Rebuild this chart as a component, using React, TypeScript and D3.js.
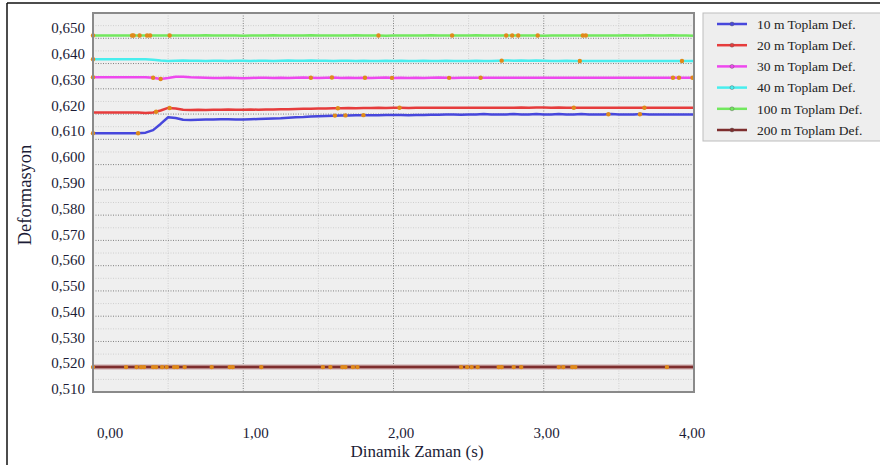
import React from "react";
import * as d3 from "d3";

const W = 880;
const H = 465;

// time axis (s)
const times = [
  0, 0.05, 0.1, 0.15, 0.2, 0.25, 0.3, 0.35, 0.4, 0.45, 0.5, 0.55, 0.6, 0.65, 0.7, 0.75, 0.8, 0.85, 0.9, 0.95,
  1, 1.05, 1.1, 1.15, 1.2, 1.25, 1.3, 1.35, 1.4, 1.45, 1.5, 1.55, 1.6, 1.65, 1.7, 1.75, 1.8, 1.85, 1.9, 1.95,
  2, 2.05, 2.1, 2.15, 2.2, 2.25, 2.3, 2.35, 2.4, 2.45, 2.5, 2.55, 2.6, 2.65, 2.7, 2.75, 2.8, 2.85, 2.9, 2.95,
  3, 3.05, 3.1, 3.15, 3.2, 3.25, 3.3, 3.35, 3.4, 3.45, 3.5, 3.55, 3.6, 3.65, 3.7, 3.75, 3.8, 3.85, 3.9, 3.95, 4,
];

const def10 = [
  0.6092, 0.6092, 0.6092, 0.6092, 0.6092, 0.6092, 0.6092, 0.6094, 0.6104, 0.6128, 0.6154, 0.6151, 0.6144, 0.6143, 0.6144, 0.6145, 0.6145, 0.6146, 0.6146, 0.6145,
  0.6145, 0.6146, 0.6147, 0.6148, 0.6149, 0.615, 0.6152, 0.6154, 0.6155, 0.6157, 0.6158, 0.6159, 0.616, 0.6161, 0.6161, 0.6162, 0.6162, 0.6162, 0.6162, 0.6163,
  0.6163, 0.6163, 0.6162, 0.6163, 0.6163, 0.6164, 0.6164, 0.6165, 0.6165, 0.6164, 0.6165, 0.6165, 0.6166, 0.6165, 0.6165, 0.6165, 0.6166, 0.6165, 0.6165, 0.6166,
  0.6165, 0.6165, 0.6166, 0.6165, 0.6165, 0.6166, 0.6165, 0.6165, 0.6165, 0.6166, 0.6165, 0.6165, 0.6165, 0.6166, 0.6165, 0.6165, 0.6165, 0.6165, 0.6165, 0.6165, 0.6165,
];

const def20 = [
  0.6172, 0.6172, 0.6172, 0.6172, 0.6172, 0.6172, 0.6172, 0.617, 0.6172, 0.618, 0.619, 0.6188, 0.6183, 0.6182, 0.6183, 0.6182, 0.6183, 0.6183, 0.6184, 0.6183,
  0.6183, 0.6184, 0.6183, 0.6184, 0.6184, 0.6185, 0.6185, 0.6186, 0.6187, 0.6187, 0.6188, 0.6188, 0.6189, 0.6189, 0.619, 0.6189, 0.619, 0.619, 0.6191, 0.619,
  0.6191, 0.6191, 0.619, 0.6191, 0.6191, 0.6191, 0.6191, 0.6191, 0.6191, 0.6191, 0.6191, 0.6191, 0.6191, 0.6191, 0.6191, 0.6191, 0.6191, 0.6192, 0.6191, 0.6192,
  0.6192, 0.6191, 0.6192, 0.6191, 0.6191, 0.6191, 0.6191, 0.6191, 0.6191, 0.6191, 0.6191, 0.6191, 0.6191, 0.6191, 0.6191, 0.6191, 0.6191, 0.6191, 0.6191, 0.6191, 0.6191,
];

const def30 = [
  0.6309, 0.6309, 0.6309, 0.6309, 0.6309, 0.6309, 0.6309, 0.6309, 0.6307, 0.6302, 0.6306, 0.6311, 0.6311, 0.6309, 0.6308, 0.6307, 0.6306, 0.6306, 0.6307, 0.6306,
  0.6305, 0.6306, 0.6307, 0.6307, 0.6306, 0.6307, 0.6306, 0.6307, 0.6308, 0.6307, 0.6306, 0.6307, 0.6308, 0.6306, 0.6307, 0.6306, 0.6307, 0.6306, 0.6307, 0.6308,
  0.6306, 0.6307, 0.6306, 0.6307, 0.6306, 0.6307, 0.6308, 0.6307, 0.6306, 0.6307, 0.6307, 0.6307, 0.6307, 0.6307, 0.6307, 0.6307, 0.6307, 0.6307, 0.6307, 0.6307,
  0.6307, 0.6307, 0.6307, 0.6307, 0.6307, 0.6307, 0.6307, 0.6307, 0.6307, 0.6307, 0.6307, 0.6307, 0.6307, 0.6307, 0.6307, 0.6307, 0.6307, 0.6307, 0.6307, 0.6307, 0.6307,
];

const def40 = [
  0.6379, 0.6379, 0.6379, 0.6379, 0.6379, 0.6379, 0.6379, 0.6379, 0.6377, 0.6374, 0.6372, 0.6373, 0.6374, 0.6373, 0.6373, 0.6372, 0.6373, 0.6373, 0.6372, 0.6373,
  0.6373, 0.6372, 0.6373, 0.6373, 0.6372, 0.6373, 0.6374, 0.6373, 0.6373, 0.6374, 0.6373, 0.6373, 0.6372, 0.6373, 0.6373, 0.6372, 0.6373, 0.6372, 0.6372, 0.6373,
  0.6372, 0.6373, 0.6372, 0.6372, 0.6373, 0.6372, 0.6372, 0.6373, 0.6372, 0.6372, 0.6372, 0.6373, 0.6372, 0.6372, 0.6373, 0.6374, 0.6373, 0.6374, 0.6373, 0.6374,
  0.6373, 0.6372, 0.6372, 0.6373, 0.6372, 0.6372, 0.6372, 0.6372, 0.6372, 0.6372, 0.6372, 0.6372, 0.6372, 0.6372, 0.6372, 0.6372, 0.6372, 0.6372, 0.6372, 0.6372, 0.6372,
];

const def100 = [
  0.6471, 0.6471, 0.6471, 0.6471, 0.6471, 0.6471, 0.6471, 0.6471, 0.6471, 0.6471, 0.6471, 0.6471, 0.6471, 0.6471, 0.6471, 0.6472, 0.6471, 0.6471, 0.6471, 0.6471,
  0.647, 0.6471, 0.6471, 0.6471, 0.6472, 0.6471, 0.6471, 0.6471, 0.6471, 0.6472, 0.6471, 0.6471, 0.6471, 0.6471, 0.6471, 0.6472, 0.6471, 0.6471, 0.6471, 0.647,
  0.6471, 0.6471, 0.6471, 0.6471, 0.6471, 0.6472, 0.6471, 0.6471, 0.6471, 0.6471, 0.6471, 0.6472, 0.6471, 0.6471, 0.6471, 0.6471, 0.6471, 0.6471, 0.6471, 0.6471,
  0.647, 0.6471, 0.6471, 0.6471, 0.6471, 0.6471, 0.6471, 0.6471, 0.6471, 0.6471, 0.6471, 0.6472, 0.6471, 0.6471, 0.6472, 0.6471, 0.6471, 0.6472, 0.6471, 0.6471, 0.647,
];

const def200 = times.map(() => 0.5185);

// orange point markers (time in s) per series
const mark10 = [0, 0.3, 1.61, 1.68, 1.8, 3.43, 3.64];
const mark20 = [0.42, 0.51, 1.63, 2.04, 3.2, 3.67];
const mark30 = [0, 0.4, 0.45, 1.45, 1.59, 1.81, 1.99, 2.37, 2.58, 3.86, 3.9, 3.99];
const mark40 = [0, 2.72, 3.24, 3.92];
const mark100 = [0, 0.26, 0.27, 0.31, 0.36, 0.38, 0.51, 1.9, 2.39, 2.75, 2.79, 2.83, 2.96, 3.26, 3.28];
const mark200 = [
  0, 0.22, 0.29, 0.32, 0.34, 0.4, 0.42, 0.46, 0.49, 0.54, 0.56, 0.61, 0.79, 0.91, 0.93, 1.12, 1.53, 1.58, 1.66,
  1.68, 1.73, 1.76, 2.45, 2.49, 2.52, 2.56, 2.7, 2.72, 2.8, 2.85, 3.1, 3.13, 3.19, 3.21, 3.82,
];

const seriesNames = [
  "10 m Toplam Def.",
  "20 m Toplam Def.",
  "30 m Toplam Def.",
  "40 m Toplam Def.",
  "100 m Toplam Def.",
  "200 m Toplam Def.",
];
const seriesValues = [def10, def20, def30, def40, def100, def200];
const seriesMarks = [mark10, mark20, mark30, mark40, mark100, mark200];
const seriesColors = ["#4747dc", "#e63c3c", "#ee48ee", "#48eeee", "#72e85e", "#7e2e2e"];

const yTicks = [0.51, 0.52, 0.53, 0.54, 0.55, 0.56, 0.57, 0.58, 0.59, 0.6, 0.61, 0.62, 0.63, 0.64, 0.65];
const xTicks = [0, 1, 2, 3, 4];

const fmt = (v: number, d: number) => v.toFixed(d).replace(".", ",");

export default function App() {
  const left = 93, right = 694, top = 13, bottom = 392;
  const x = d3.scaleLinear().domain([0, 4]).range([left, right]);
  const y = d3.scaleLinear().domain([0.51, 0.65]).range([389, 28]);
  const xLab = d3.scaleLinear().domain([0, 4]).range([110, 692]);
  const gridY = d3.scaleLinear().domain([0, 15]).range([bottom, top]);

  const line = d3
    .line<number>()
    .x((_, i) => x(times[i]))
    .y((v) => y(v));

  const interp = (vals: number[], t: number) => {
    const i = Math.min(d3.bisectRight(times, t), times.length - 1);
    const i0 = Math.max(i - 1, 0);
    if (i === i0) return vals[i0];
    const f = (t - times[i0]) / (times[i] - times[i0]);
    return vals[i0] + (vals[i] - vals[i0]) * Math.max(0, Math.min(1, f));
  };

  const majorY = d3.range(1, 15);
  const minorY = d3.range(0.5, 15, 1);
  const majorX = [1, 2, 3];
  const minorX = [0.5, 1.5, 2.5, 3.5];

  const serif = "'Liberation Serif', 'Times New Roman', serif";

  return (
    <svg
      width={W}
      height={H}
      style={{ position: "absolute", left: 0, top: 0, background: "#fff" }}
      fontFamily={serif}
    >
      {/* outer frame */}
      <line x1={7} y1={3} x2={880} y2={3} stroke="#111" strokeWidth={1.5} />
      <line x1={7} y1={3} x2={7} y2={465} stroke="#111" strokeWidth={1.5} />

      {/* plot background */}
      <rect x={left} y={top} width={right - left} height={bottom - top} fill="#efefef" />

      {/* minor grid */}
      {minorY.map((d) => (
        <line key={"my" + d} x1={left} x2={right} y1={gridY(d)} y2={gridY(d)} stroke="#cfcfcf" strokeWidth={1} strokeDasharray="1,1.5" />
      ))}
      {minorX.map((d) => (
        <line key={"mx" + d} x1={x(d)} x2={x(d)} y1={top} y2={bottom} stroke="#cfcfcf" strokeWidth={1} strokeDasharray="1,1.5" />
      ))}
      {/* major grid */}
      {majorY.map((d) => (
        <line key={"My" + d} x1={left} x2={right} y1={gridY(d)} y2={gridY(d)} stroke="#808080" strokeWidth={1} strokeDasharray="1,1.5" />
      ))}
      {majorX.map((d) => (
        <line key={"Mx" + d} x1={x(d)} x2={x(d)} y1={top} y2={bottom} stroke="#808080" strokeWidth={1} strokeDasharray="1,1.5" />
      ))}

      {/* series */}
      <path d={line(def200) || ""} fill="none" stroke="#c9a3a3" strokeWidth={5} />
      {seriesValues.map((vals, k) => (
        <path key={"s" + k} d={line(vals) || ""} fill="none" stroke={seriesColors[k]} strokeWidth={2.5} strokeLinejoin="round" />
      ))}
      {seriesMarks.map((ms, k) =>
        ms.map((t, j) => (
          <circle key={"m" + k + "-" + j} cx={x(t)} cy={y(interp(seriesValues[k], t))} r={2.2} fill="#e08a1a" />
        ))
      )}

      {/* plot border */}
      <rect x={left} y={top} width={right - left} height={bottom - top} fill="none" stroke="#8a8a8a" strokeWidth={2} />

      {/* y tick labels */}
      {yTicks.map((v) => (
        <text key={"yt" + v} x={85} y={y(v)} dy="0.35em" textAnchor="end" fontSize={15} fill="#1c1c36">
          {fmt(v, 3)}
        </text>
      ))}
      {/* x tick labels */}
      {xTicks.map((v) => (
        <text key={"xt" + v} x={xLab(v)} y={433} dy="0.35em" textAnchor="middle" fontSize={15} fill="#1c1c36">
          {fmt(v, 2)}
        </text>
      ))}

      {/* axis titles */}
      <text x={417} y={451} dy="0.35em" textAnchor="middle" fontSize={17} fill="#1c1c36">
        Dinamik Zaman (s)
      </text>
      <text transform={`translate(25,195) rotate(-90)`} dy="0.35em" textAnchor="middle" fontSize={18.5} fill="#1c1c36">
        Deformasyon
      </text>

      {/* legend */}
      <rect x={703} y={13} width={190} height={128} fill="#eeeeee" stroke="#bdbdbd" strokeWidth={1} />
      {seriesNames.map((name, k) => {
        const cy = 24 + k * 21.2;
        return (
          <g key={"lg" + k}>
            <line x1={717} x2={747} y1={cy} y2={cy} stroke={seriesColors[k]} strokeWidth={2.5} />
            <circle cx={732} cy={cy} r={2} fill={seriesColors[k]} stroke="#555" strokeWidth={0.4} />
            <text x={757} y={cy} dy="0.35em" fontSize={13.5} fill="#222">
              {name}
            </text>
          </g>
        );
      })}
    </svg>
  );
}
